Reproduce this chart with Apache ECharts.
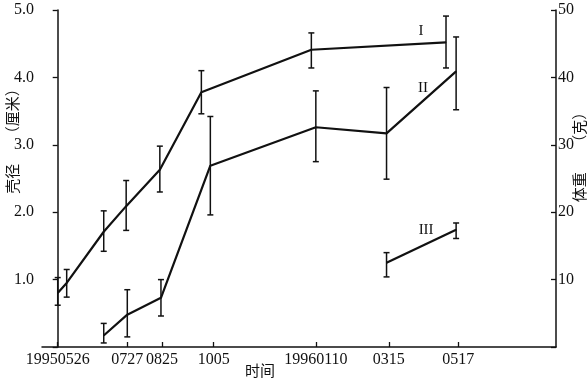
<!DOCTYPE html>
<html>
<head>
<meta charset="utf-8">
<script src="https://cdn.jsdelivr.net/npm/echarts@6/dist/echarts.min.js"></script>
<style>
  html, body { margin: 0; padding: 0; background: #fff; }
  #chart { width: 588px; height: 378px; }
</style>
</head>
<body>
<div id="chart"></div>
<script>
// x positions are days after 1995-05-26
const tickDays = [0, 62, 93, 139, 230, 295, 357]
const tickLabels = ['19950526', '0727', '0825', '1005', '19960110', '0315', '0517']

// I: shell diameter (cm), left axis
const dayI = [0, 8, 41, 61, 91, 128, 226, 346]
const meanI = [0.80, 0.95, 1.71, 2.09, 2.63, 3.78, 4.41, 4.52]
const lowI = [0.62, 0.74, 1.42, 1.73, 2.30, 3.46, 4.14, 4.14]
const highI = [1.03, 1.15, 2.02, 2.47, 2.98, 4.10, 4.66, 4.91]

// II: shell diameter (cm), left axis
const dayII = [41, 62, 92, 136, 230, 293, 355]
const meanII = [0.17, 0.48, 0.73, 2.69, 3.26, 3.17, 4.09]
const lowII = [0.06, 0.15, 0.46, 1.96, 2.75, 2.49, 3.52]
const highII = [0.35, 0.85, 1.00, 3.42, 3.80, 3.85, 4.60]

// III: body weight (g), right axis
const dayIII = [293, 355]
const meanIII = [12.5, 17.4]
const lowIII = [10.4, 16.1]
const highIII = [14.0, 18.4]

const ink = '#111'
const serif = 'Liberation Serif'
const cjk = 'Noto Sans CJK SC'

const chart = echarts.init(document.getElementById('chart'))

function lineSeries(days, means, yAxisIndex, tag, offset) {
  const data = days.map((d, i) => [d, means[i]])
  const last = data.length - 1
  data[last] = {
    value: data[last],
    label: {
      show: true,
      formatter: tag,
      position: 'inside',
      offset: offset,
      color: ink,
      fontFamily: serif,
      fontSize: 15
    }
  }
  return {
    type: 'line',
    yAxisIndex,
    data,
    symbol: 'circle',
    symbolSize: 1,
    itemStyle: { color: ink },
    lineStyle: { color: ink, width: 2.2 },
    z: 3
  }
}

function errorSeries(days, lows, highs, yAxisIndex) {
  return {
    type: 'custom',
    yAxisIndex,
    data: days.map((d, i) => [d, lows[i], highs[i]]),
    renderItem(params, api) {
      const top = api.coord([api.value(0), api.value(2)])
      const bot = api.coord([api.value(0), api.value(1)])
      const cap = 3
      const style = { stroke: ink, lineWidth: 1.5 }
      return {
        type: 'group',
        children: [
          { type: 'line', shape: { x1: top[0], y1: top[1], x2: bot[0], y2: bot[1] }, style },
          { type: 'line', shape: { x1: top[0] - cap, y1: top[1], x2: top[0] + cap, y2: top[1] }, style },
          { type: 'line', shape: { x1: bot[0] - cap, y1: bot[1], x2: bot[0] + cap, y2: bot[1] }, style }
        ]
      }
    },
    z: 2
  }
}

const option = {
  animation: false,
  backgroundColor: '#fff',
  grid: { left: 42, right: 32, top: 10, bottom: 31, containLabel: false, outerBoundsMode: 'none' },
  xAxis: {
    type: 'value',
    min: -14,
    max: 444,
    name: '时间',
    nameLocation: 'middle',
    nameGap: 16,
    nameMoveOverlap: false,
    nameTextStyle: { color: ink, fontFamily: cjk, fontSize: 15, padding: [0, 78, 0, 0] },
    axisLine: { lineStyle: { color: ink, width: 1.5 } },
    axisTick: { inside: true, length: 5, customValues: tickDays, lineStyle: { color: ink, width: 1.3 } },
    axisLabel: {
      customValues: tickDays,
      formatter: v => tickLabels[tickDays.indexOf(v)] || '',
      color: ink,
      fontFamily: serif,
      fontSize: 16,
      margin: 5
    },
    splitLine: { show: false }
  },
  yAxis: [
    {
      type: 'value',
      min: 0,
      max: 5,
      interval: 1,
      name: '壳径　　（厘米）',
      nameLocation: 'middle',
      nameRotate: 90,
      nameGap: 22,
      nameMoveOverlap: false,
      nameTextStyle: { color: ink, fontFamily: cjk, fontSize: 15, padding: [0, 0, 0, 82] },
      axisLine: { show: true, lineStyle: { color: ink, width: 1.5 } },
      axisTick: { show: true, length: 5, lineStyle: { color: ink, width: 1.3 } },
      axisLabel: {
        formatter: v => v === 0 ? '' : v.toFixed(1),
        color: ink,
        fontFamily: serif,
        fontSize: 16,
        margin: 8
      },
      splitLine: { show: false }
    },
    {
      type: 'value',
      position: 'right',
      min: 0,
      max: 50,
      interval: 10,
      name: '体重　　（克）',
      nameLocation: 'middle',
      nameRotate: 90,
      nameGap: 16,
      nameMoveOverlap: false,
      nameTextStyle: { color: ink, fontFamily: cjk, fontSize: 15, padding: [0, 0, 0, 50] },
      axisLine: { show: true, lineStyle: { color: ink, width: 1.5 } },
      axisTick: { show: true, inside: true, length: 5, lineStyle: { color: ink, width: 1.3 } },
      axisLabel: {
        formatter: v => v === 0 ? '' : String(v),
        color: ink,
        fontFamily: serif,
        fontSize: 16,
        margin: 2
      },
      splitLine: { show: false }
    }
  ],
  series: [
    errorSeries(dayI, lowI, highI, 0),
    errorSeries(dayII, lowII, highII, 0),
    errorSeries(dayIII, lowIII, highIII, 1),
    lineSeries(dayI, meanI, 0, 'I', [-25, -11]),
    lineSeries(dayII, meanII, 0, 'II', [-33, 17]),
    lineSeries(dayIII, meanIII, 1, 'III', [-30, 0])
  ]
}

chart.setOption(option)
</script>
</body>
</html>
